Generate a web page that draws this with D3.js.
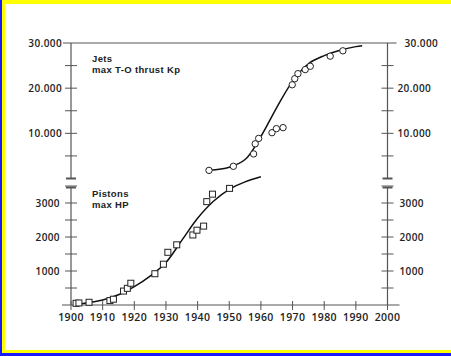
<!DOCTYPE html>
<html><head><meta charset="utf-8">
<script src="https://cdn.jsdelivr.net/npm/d3@7"></script>
<style>
html,body{margin:0;padding:0;background:#fff;}
svg{display:block;}
text{font-family:"Open Sans","DejaVu Sans",sans-serif;fill:#222;}
</style></head>
<body>
<svg id="c" width="451" height="356"></svg>
<script>
// ---- data ----
const xTicks = [1900,1910,1920,1930,1940,1950,1960,1970,1980,1990,2000];
const jetTicks = [10000,20000,30000];
const jetTickLabels = ["10.000","20.000","30.000"];
const jetMinor = [5000,15000,25000];
const pistonTicks = [1000,2000,3000];
const pistonTickLabels = ["1000","2000","3000"];
const pistonMinor = [500,1500,2500,3500];

const pistonYears = [1901.6,1902.5,1905.7,1912.3,1913.4,1916.6,1917.8,1918.9,1926.5,1929.2,1930.6,1933.4,1938.5,1939.8,1941.9,1942.9,1944.7,1950.1];
const pistonHP    = [50,60,80,130,170,410,490,640,920,1200,1550,1770,2060,2200,2320,3040,3260,3430];
const pistonCurveYears = [1901,1905,1910,1915,1920,1925,1930,1935,1940,1945,1950,1955,1960];
const pistonCurveHP    = [20,60,150,300,540,850,1250,1900,2550,3050,3400,3620,3770];

const jetYears = [1943.6,1951.3,1957.7,1958.2,1959.3,1963.5,1964.9,1967.0,1969.9,1970.7,1971.7,1974.0,1975.6,1981.9,1985.9];
const jetKp    = [1800,2700,5440,7680,8880,10140,11040,11260,20750,22090,23210,24110,24850,27090,28270];
const jetCurveYears = [1943.6,1950,1955,1960,1965,1970,1975,1980,1985,1990,1992];
const jetCurveKp    = [1800,2500,4200,9300,15700,21500,25400,27200,28400,29200,29400];

const jetLabel = ["Jets","max T-O thrust Kp"];
const pistonLabel = ["Pistons","max HP"];

// ---- layout ----
const svg = d3.select("#c");
const x = d3.scaleLinear().domain([1900,2000]).range([71,387.5]);
const yJ = d3.scaleLinear().domain([0,30000]).range([178.5,43]);
const yP = d3.scaleLinear().domain([0,3500]).range([305,186]);
const axisCol = "#555";
const L = x(1900), R = x(2000);

// frame
svg.append("rect").attr("x",0).attr("y",0).attr("width",451).attr("height",4).attr("fill","#ffff00");
svg.append("rect").attr("x",0).attr("y",350).attr("width",451).attr("height",3).attr("fill","#ffff00");
svg.append("rect").attr("x",0).attr("y",353).attr("width",451).attr("height",3).attr("fill","#1a1aff");
svg.append("rect").attr("x",2).attr("y",0).attr("width",3).attr("height",353).attr("fill","#ffff00");
svg.append("rect").attr("x",0).attr("y",0).attr("width",2).attr("height",356).attr("fill","#1a1aff");

const g = svg.append("g");

// vertical axes (with break)
[L,R].forEach(ax=>{
  g.append("line").attr("x1",ax).attr("x2",ax).attr("y1",yJ(30000)).attr("y2",yJ(0)).attr("stroke",axisCol).attr("stroke-width",1.2);
  g.append("line").attr("x1",ax).attr("x2",ax).attr("y1",yP(3500)+1.5).attr("y2",yP(0)).attr("stroke",axisCol).attr("stroke-width",1.2);
  g.append("line").attr("x1",ax-5).attr("x2",ax+5).attr("y1",yJ(0)).attr("y2",yJ(0)).attr("stroke",axisCol).attr("stroke-width",2);
  g.append("line").attr("x1",ax-5).attr("x2",ax+5).attr("y1",yP(3500)+1.5).attr("y2",yP(3500)+1.5).attr("stroke",axisCol).attr("stroke-width",2);
  jetTicks.concat(jetMinor).forEach(v=>{
    if (v===30000) return;
    g.append("line").attr("x1",ax-6).attr("x2",ax+6).attr("y1",yJ(v)).attr("y2",yJ(v)).attr("stroke",axisCol).attr("stroke-width",1);
  });
  pistonTicks.concat(pistonMinor).forEach(v=>{
    g.append("line").attr("x1",ax-6).attr("x2",ax+6).attr("y1",yP(v)).attr("y2",yP(v)).attr("stroke",axisCol).attr("stroke-width",1);
  });
});
// top rule
g.append("line").attr("x1",L-8).attr("x2",R+9).attr("y1",yJ(30000)).attr("y2",yJ(30000)).attr("stroke",axisCol).attr("stroke-width",1.2);
// x axis
g.append("line").attr("x1",L-9).attr("x2",R+12).attr("y1",yP(0)).attr("y2",yP(0)).attr("stroke",axisCol).attr("stroke-width",1.2);
xTicks.forEach(v=>{
  g.append("line").attr("x1",x(v)).attr("x2",x(v)).attr("y1",yP(0)-4).attr("y2",yP(0)+5).attr("stroke",axisCol).attr("stroke-width",1);
  g.append("text").attr("x",x(v)).attr("y",yP(0)+16).attr("text-anchor","middle")
    .attr("font-size","10.5px").attr("font-weight",600).attr("letter-spacing","0.4px").text(v);
});

// y labels
jetTicks.forEach((v,i)=>{
  g.append("text").attr("x",L-9).attr("y",yJ(v)+3.5).attr("text-anchor","end")
    .attr("font-size","10px").attr("font-weight",600).attr("letter-spacing","0.4px").text(jetTickLabels[i]);
  g.append("text").attr("x",R+10+(v===30000?7:0)).attr("y",yJ(v)+3.5).attr("text-anchor","start")
    .attr("font-size","10px").attr("font-weight",600).attr("letter-spacing","0.4px").text(jetTickLabels[i]);
});
pistonTicks.forEach((v,i)=>{
  g.append("text").attr("x",L-11).attr("y",yP(v)+3.5).attr("text-anchor","end")
    .attr("font-size","10px").attr("font-weight",600).attr("letter-spacing","0.4px").text(pistonTickLabels[i]);
  g.append("text").attr("x",R+12).attr("y",yP(v)+3.5).attr("text-anchor","start")
    .attr("font-size","10px").attr("font-weight",600).attr("letter-spacing","0.4px").text(pistonTickLabels[i]);
});

// series labels
const lab = (lines,xx,yy)=>{
  lines.forEach((s,i)=>g.append("text").attr("x",xx).attr("y",yy+i*11)
    .style("font-family","'Liberation Sans',Arial,sans-serif")
    .attr("font-size","9.5px").attr("font-weight",700).attr("letter-spacing","0.35px").attr("fill","#333").text(s));
};
lab(jetLabel,92,61.5);
lab(pistonLabel,92,196.5);

// curves
const pLine = d3.line().x(d=>x(d[0])).y(d=>yP(d[1])).curve(d3.curveCatmullRom.alpha(0.5));
const jLine = d3.line().x(d=>x(d[0])).y(d=>yJ(d[1])).curve(d3.curveCatmullRom.alpha(0.5));
g.append("path").attr("d",pLine(d3.zip(pistonCurveYears,pistonCurveHP))).attr("fill","none").attr("stroke","#111").attr("stroke-width",1.5);
g.append("path").attr("d",jLine(d3.zip(jetCurveYears,jetCurveKp))).attr("fill","none").attr("stroke","#111").attr("stroke-width",1.5);

// markers
g.selectAll(".sq").data(d3.zip(pistonYears,pistonHP)).join("rect")
  .attr("x",d=>x(d[0])-3).attr("y",d=>yP(d[1])-3).attr("width",6).attr("height",6)
  .attr("fill","#fff").attr("stroke","#222").attr("stroke-width",1);
g.selectAll(".ci").data(d3.zip(jetYears,jetKp)).join("circle")
  .attr("cx",d=>x(d[0])).attr("cy",d=>yJ(d[1])).attr("r",3.2)
  .attr("fill","#fff").attr("stroke","#222").attr("stroke-width",1);
</script>
</body></html>
